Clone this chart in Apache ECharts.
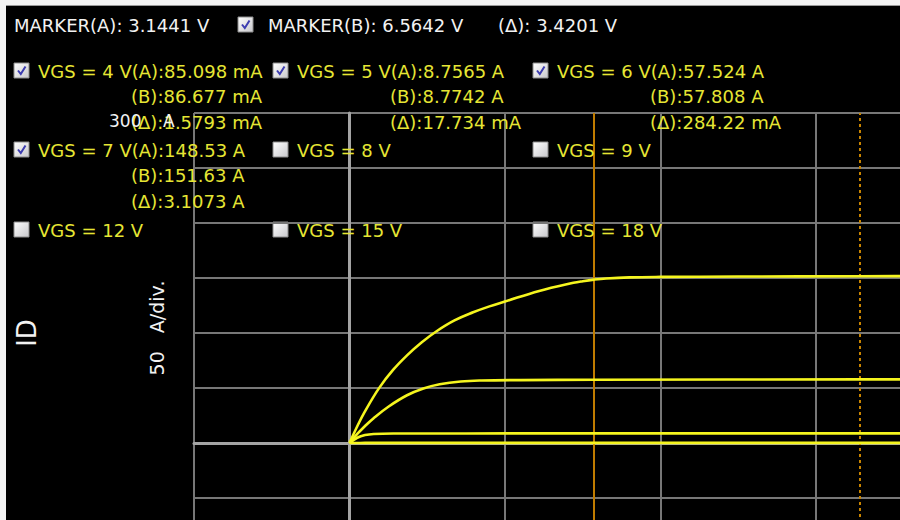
<!DOCTYPE html>
<html>
<head>
<meta charset="utf-8">
<script src="https://cdn.jsdelivr.net/npm/echarts@6/dist/echarts.min.js"></script>
<style>
  html, body { margin: 0; padding: 0; background: #000; overflow: hidden; width: 900px; height: 520px; }
  #chart { position: absolute; left: 0; top: 0; width: 1000px; height: 580px; }
</style>
</head>
<body>
<div id="chart"></div>
<script>
// Cursor positions (VDS, volts) and their readouts
const markerVolts = [3.1441, 6.5642];
const markerText = ['MARKER(A): 3.1441 V', 'MARKER(B): 6.5642 V', '(\u0394): 3.4201 V'];

// Gate-voltage sweep legend
const vgsLabels = ['VGS = 4 V', 'VGS = 5 V', 'VGS = 6 V',
                   'VGS = 7 V', 'VGS = 8 V', 'VGS = 9 V',
                   'VGS = 12 V', 'VGS = 15 V', 'VGS = 18 V'];
const vgsChecked = [true, true, true, true, false, false, false, false, false];
const readA = ['85.098 mA', '8.7565 A', '57.524 A', '148.53 A'];
const readB = ['86.677 mA', '8.7742 A', '57.808 A', '151.63 A'];
const readDelta = ['1.5793 mA', '17.734 mA', '284.22 mA', '3.1073 A'];

// Axis scale: 2 V/div horizontally, 50 A/div vertically
const vdsRange = [-2, 8];
const vdsStep = 2;
const idRange = [-100, 300];
const idStep = 50;
const idTopLabel = ['300', 'A'];
const idAxisTitle = 'ID';
const idScaleTitle = '50   A/div.';

// Measured ID-VDS curves, [VDS (V), ID (A)]
const idVgs4 = [[0, 0], [0.2, 0.08], [3.1441, 0.085098], [6.5642, 0.086677], [8, 0.087]];
const idVgs5 = [[0, 0], [0.1, 4.8], [0.2, 7.2], [0.31, 8.2], [0.6, 8.6], [1.5, 8.7],
                [3.1441, 8.7565], [6.5642, 8.7742], [8, 8.78]];
const idVgs6 = [[0, 0], [0.1, 8.2], [0.2, 15.5], [0.31, 22.6], [0.5, 33.0], [0.74, 43.4],
                [0.95, 49.6], [1.16, 53.4], [1.43, 55.9], [1.7, 56.8], [2.2, 57.2],
                [3.1441, 57.524], [6.5642, 57.808], [8, 57.9]];
const idVgs7 = [[0, 0], [0.1, 15.2], [0.19, 27.6], [0.38, 49.9], [0.56, 66.4], [0.74, 79.7],
                [0.93, 91.6], [1.12, 101.6], [1.35, 111.4], [1.59, 118.8], [1.8, 124.2],
                [2.0, 128.6], [2.44, 138.2], [2.88, 145.6], [3.0, 147.1], [3.1441, 148.53],
                [3.3, 149.6], [3.6, 150.6], [4.0, 151.0], [5.0, 151.3],
                [6.5642, 151.63], [8, 151.8]];

const FONT = '"DejaVu Sans", Verdana, sans-serif';
const YELLOW = '#e6e634';
const WHITE = '#f2f2f2';
const TRACE = '#f5f51e';

function txt(x, y, s, color, size, extra) {
  return Object.assign({
    type: 'text', x: x, y: y, z: 10, silent: true,
    style: { text: s, x: 0, y: 0, fill: color, font: size + 'px ' + FONT,
             align: 'left', verticalAlign: 'middle' }
  }, extra || {});
}

function checkbox(x, y, checked) {
  const children = [{
    type: 'rect', shape: { x: 0, y: 0, width: 15, height: 15 },
    style: {
      fill: new echarts.graphic.LinearGradient(0, 0, 1, 1, [
        { offset: 0, color: '#ffffff' }, { offset: 1, color: '#c8c8cc' }]),
      stroke: '#8c8c8c', lineWidth: 1
    }
  }];
  if (checked) {
    children.push({
      type: 'polyline', shape: { points: [[4, 7.5], [6.8, 11], [11.5, 3.5]] },
      style: { stroke: '#3c3cb0', lineWidth: 2, fill: null }
    });
  }
  return { type: 'group', x: x, y: y - 8, z: 10, silent: true, children: children };
}

const graphics = [];
// header row
graphics.push(txt(14, 25, markerText[0], WHITE, 18));
graphics.push(checkbox(238, 25, true));
graphics.push(txt(268, 25, markerText[1], WHITE, 18));
graphics.push(txt(498, 25, markerText[2], WHITE, 18));

// legend grid
const colBox = [14, 273, 533];
const rowY = [71, 150, 230];
vgsLabels.forEach(function (label, i) {
  const cx = colBox[i % 3];
  const cy = rowY[Math.floor(i / 3)];
  graphics.push(checkbox(cx, cy, vgsChecked[i]));
  if (vgsChecked[i]) {
    graphics.push(txt(cx + 24, cy, label + '(A):' + readA[i], YELLOW, 18));
    graphics.push(txt(cx + 117, cy + 25.5, '(B):' + readB[i], YELLOW, 18));
    graphics.push(txt(cx + 117, cy + 51, '(\u0394):' + readDelta[i], YELLOW, 18));
  } else {
    graphics.push(txt(cx + 24, cy, label, YELLOW, 18));
  }
});

// vertical axis captions
graphics.push(txt(109, 121, idTopLabel[0], WHITE, 17));
graphics.push(txt(163, 121, idTopLabel[1], WHITE, 17));
graphics.push(txt(27, 333, idAxisTitle, WHITE, 26, { rotation: Math.PI / 2 }));
graphics[graphics.length - 1].style.align = 'center';
graphics.push(txt(157, 328, idScaleTitle, WHITE, 19, { rotation: Math.PI / 2 }));
graphics[graphics.length - 1].style.align = 'center';

// window frame at top/left
graphics.push({ type: 'rect', z: 20, silent: true, shape: { x: 0, y: 0, width: 1000, height: 5 }, style: { fill: '#f4f4f4' } });
graphics.push({ type: 'rect', z: 20, silent: true, shape: { x: 0, y: 5, width: 1000, height: 1 }, style: { fill: '#9a9a9a' } });
graphics.push({ type: 'rect', z: 20, silent: true, shape: { x: 0, y: 0, width: 6, height: 580 }, style: { fill: '#f4f4f4' } });

function curve(name, data) {
  return {
    name: name, type: 'line', data: data, z: 5,
    showSymbol: false, symbol: 'none', smooth: 0.4,
    lineStyle: { color: TRACE, width: 2.6 }, animation: false
  };
}

const chart = echarts.init(document.getElementById('chart'), null, { renderer: 'svg' });
chart.setOption({
  backgroundColor: '#000',
  animation: false,
  grid: { left: 194, top: 113, right: 28.5, bottom: 27, containLabel: false },
  xAxis: {
    type: 'value', min: vdsRange[0], max: vdsRange[1], interval: vdsStep,
    axisLine: { show: true, onZero: true, lineStyle: { color: '#a4a4a4', width: 3 } },
    axisTick: { show: false }, axisLabel: { show: false },
    splitLine: { show: true, lineStyle: { color: '#777', width: 2 } }
  },
  yAxis: {
    type: 'value', min: idRange[0], max: idRange[1], interval: idStep,
    axisLine: { show: true, onZero: true, lineStyle: { color: '#a4a4a4', width: 3 } },
    axisTick: { show: false }, axisLabel: { show: false },
    splitLine: { show: true, lineStyle: { color: '#777', width: 2 } }
  },
  series: [
    {
      name: 'markers', type: 'line', data: [], z: 3, silent: true,
      markLine: {
        silent: true, symbol: 'none', label: { show: false }, animation: false,
        data: [
          { xAxis: markerVolts[0], lineStyle: { color: '#c07c00', width: 2, type: 'solid' } },
          { xAxis: markerVolts[1], lineStyle: { color: '#c88400', width: 2, type: [3, 3] } }
        ]
      }
    },
    curve(vgsLabels[0], idVgs4),
    curve(vgsLabels[1], idVgs5),
    curve(vgsLabels[2], idVgs6),
    curve(vgsLabels[3], idVgs7)
  ],
  graphic: graphics
});
</script>
</body>
</html>
